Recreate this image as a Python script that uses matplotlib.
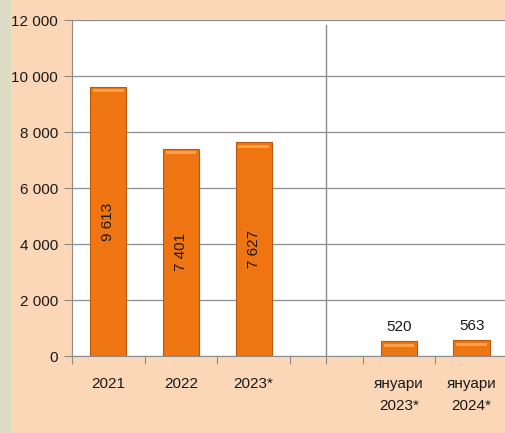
import matplotlib
matplotlib.use("Agg")
import matplotlib.pyplot as plt
import matplotlib.patches as mpatches

## Данни
categories = ["2021", "2022", "2023*", "", "януари\n2023*", "януари\n2024*"]
values = [9613, 7401, 7627, None, 520, 563]
value_labels = ["9 613", "7 401", "7 627", "", "520", "563"]
y_ticks = [0, 2000, 4000, 6000, 8000, 10000, 12000]
y_tick_labels = ["0", "2 000", "4 000", "6 000", "8 000", "10 000", "12 000"]

plt.rcParams['font.family'] = ['Liberation Sans Narrow', 'Liberation Sans', 'DejaVu Sans']

PEACH = "#FCD7B7"
ORANGE = "#EF7512"
LIGHT = "#F8A04A"
EDGE = "#B85A0E"

fig = plt.figure(figsize=(5.06, 4.33), dpi=100)
fig.patch.set_facecolor(PEACH)
# лента вляво
fig.patches.append(mpatches.Rectangle((0, 0), 11 / 506, 1, transform=fig.transFigure,
                                      facecolor="#DEDBC6", edgecolor="none", zorder=0))

ax = fig.add_axes([72 / 506, 77 / 433, 436 / 506, 336 / 433])
ax.set_facecolor("white")

x = list(range(len(categories)))
for i, v in enumerate(values):
    if v is None:
        continue
    ax.bar(i, v, width=0.5, color=ORANGE, edgecolor=EDGE, linewidth=0.8, zorder=3)
    # светла ивица отгоре (ефект на скосяване)
    ax.bar(i, 110, bottom=v - 200, width=0.42, color=LIGHT, edgecolor="none", zorder=3.5)
    if v > 2000:
        ax.text(i, v / 2, value_labels[i], rotation=90, ha="center", va="center",
                fontsize=11, color="#1a1a1a", zorder=4)
    else:
        ax.text(i, v + 250, value_labels[i], ha="center", va="bottom",
                fontsize=11, color="#1a1a1a", zorder=4)

ax.set_xlim(-0.5, len(categories) - 0.5)
ax.set_ylim(0, 12000)
ax.set_yticks(y_ticks)
ax.set_yticklabels(y_tick_labels, fontsize=11, color="#1a1a1a")
ax.yaxis.grid(True, color="#8C8C8C", linewidth=0.9, zorder=0)
ax.set_axisbelow(True)

# вертикален разделител
ax.axvline(3, ymin=0, ymax=0.985, color="#8C8C8C", linewidth=1.0, zorder=2)

ax.set_xticks([c + 0.5 for c in x[:-1]] + [-0.5, 3], minor=False)
ax.set_xticks(x, minor=True)
ax.set_xticklabels([""] * (len(x) + 1))
ax.set_xticklabels(categories, minor=True, fontsize=11, color="#1a1a1a", linespacing=1.75)
ax.tick_params(axis="x", which="major", length=6, color="#8C8C8C")
ax.tick_params(axis="x", which="minor", length=0, pad=15)
ax.tick_params(axis="y", length=6, color="#8C8C8C", pad=4)

for s in ["top", "right"]:
    ax.spines[s].set_visible(False)
ax.spines["left"].set_color("#8C8C8C")
ax.spines["bottom"].set_color("#8C8C8C")

plt.savefig("out.png", dpi=100, facecolor=fig.get_facecolor())
